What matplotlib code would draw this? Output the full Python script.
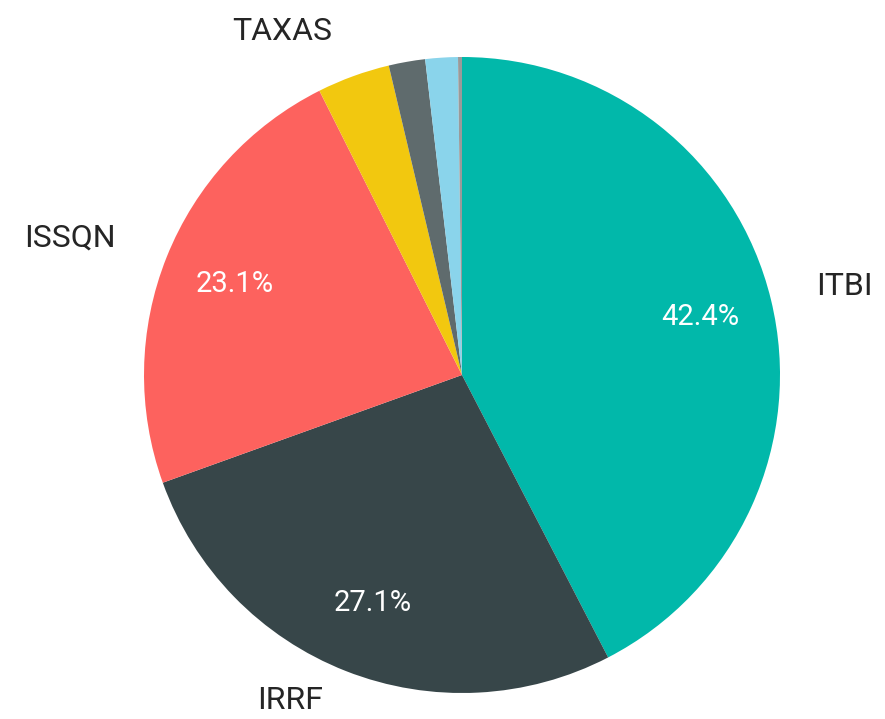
import matplotlib.pyplot as plt
import numpy as np

# Data
categories = ['ITBI', 'IRRF', 'ISSQN', 'TAXAS', 'OUTROS', 'CONTRIB', 'MULTAS']
shares = [42.4, 27.1, 23.1, 3.7, 1.85, 1.65, 0.2]
colors = ['#01B8AA', '#374649', '#FD625E', '#F2C80F', '#5F6B6D', '#8AD4EB', '#9A9A9A']
shown_labels = ['ITBI', 'IRRF', 'ISSQN', 'TAXAS']

plt.rcParams['font.family'] = ['Roboto', 'DejaVu Sans']

fig = plt.figure(figsize=(8.85, 7.19), dpi=100)
ax = fig.add_axes([0, 0, 1, 1])

wedges, _, autotexts = ax.pie(
    shares, colors=colors, startangle=90, counterclock=False,
    autopct=lambda p: f'{p:.1f}%' if p > 10 else '', pctdistance=0.77,
    textprops=dict(color='white', fontsize=21),
    wedgeprops=dict(linewidth=0))

# Outside category labels (radius, angle offset in degrees)
label_pos = {'ITBI': (1.236, -0.6), 'IRRF': (1.157, -6.5),
             'ISSQN': (1.305, 2.5), 'TAXAS': (1.22, 7.7)}
for w, name in zip(wedges, categories):
    if name not in shown_labels:
        continue
    r, shift = label_pos[name]
    ang = np.deg2rad((w.theta1 + w.theta2) / 2 + shift)
    ax.text(r * np.cos(ang), r * np.sin(ang), name, ha='center', va='center',
            fontsize=23, color='#252525')

px = 318.0
ax.set_xlim(-462 / px, (885 - 462) / px)
ax.set_ylim((375 - 719) / px, 375 / px)
ax.set_aspect('equal', adjustable='box')
ax.axis('off')

fig.savefig('out.png', dpi=100)
